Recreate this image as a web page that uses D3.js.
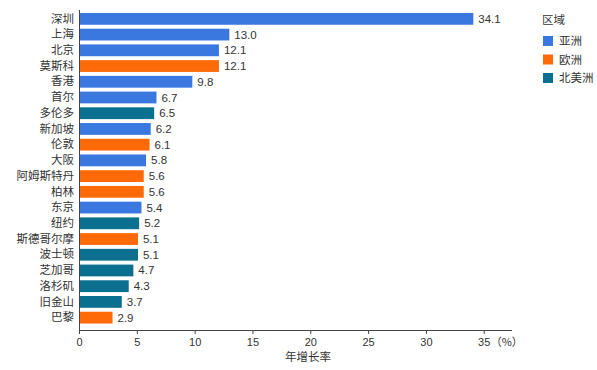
<!DOCTYPE html>
<html>
<head>
<meta charset="utf-8">
<script src="https://cdn.jsdelivr.net/npm/d3@7"></script>
<style>
  body { margin: 0; background: #fff; }
  text { font-family: "Noto Sans CJK SC", "Liberation Sans", sans-serif; }
  .num { font-family: "Liberation Sans", sans-serif; }
</style>
</head>
<body>
<svg id="mainsvg" width="597" height="370"></svg>
<script>

const cities = ["深圳", "上海", "北京", "莫斯科", "香港", "首尔", "多伦多", "新加坡", "伦敦", "大阪",
    "阿姆斯特丹", "柏林", "东京", "纽约", "斯德哥尔摩", "波士顿", "芝加哥", "洛杉矶", "旧金山", "巴黎"]
const growth = [34.1, 13.0, 12.1, 12.1, 9.8, 6.7, 6.5, 6.2, 6.1, 5.8,
    5.6, 5.6, 5.4, 5.2, 5.1, 5.1, 4.7, 4.3, 3.7, 2.9]
const regionOf = ["亚洲", "亚洲", "亚洲", "欧洲", "亚洲", "亚洲", "北美洲", "亚洲", "欧洲", "亚洲",
    "欧洲", "欧洲", "亚洲", "北美洲", "欧洲", "北美洲", "北美洲", "北美洲", "北美洲", "欧洲"]
const regions = ["亚洲", "欧洲", "北美洲"]
const regionColors = ["#3a77df", "#ff6a08", "#0b6f90"]
const xTicks = [0, 5, 10, 15, 20, 25, 30, 35]

const MARGIN = { left: 79, top: 11, right: 85, bottom: 40 }
const axisY = 330

let svg = d3.select("#mainsvg")
let data = cities.map((c, i) => ({ city: c, value: growth[i], region: regionOf[i] }))

let x = d3.scaleLinear().domain([0, 37.4]).range([MARGIN.left, 511.5])
let y = d3.scaleBand().domain(cities).range([MARGIN.top, 325.5]).paddingInner(0.25).paddingOuter(0.125)
let color = d3.scaleOrdinal().domain(regions).range(regionColors)

// bars
svg.append("g").attr("id", "bars")
    .selectAll("rect")
    .data(data)
    .enter()
    .append("rect")
    .attr("x", x(0))
    .attr("y", d => y(d.city))
    .attr("width", d => x(d.value) - x(0))
    .attr("height", y.bandwidth())
    .attr("fill", d => color(d.region))

// value labels
svg.append("g")
    .selectAll("text")
    .data(data)
    .enter()
    .append("text")
    .attr("class", "num")
    .attr("x", d => x(d.value) + 5)
    .attr("y", d => y(d.city) + y.bandwidth() / 2)
    .attr("dy", "0.35em")
    .attr("font-size", 11.5)
    .attr("fill", "#333")
    .text(d => d.value.toFixed(1))

// y axis
let yAxis = svg.append("g")
    .attr("transform", `translate(${MARGIN.left},0)`)
    .call(d3.axisLeft(y).tickSize(0).tickPadding(5))
yAxis.select(".domain").attr("d", `M0.5,10V${axisY}`).attr("stroke", "#444")
yAxis.selectAll("text").attr("font-size", 11.5).attr("fill", "#333")
    .style("font-family", '"Noto Sans CJK SC", sans-serif')

// x axis
let xAxis = svg.append("g")
    .attr("transform", `translate(0,${axisY})`)
    .call(d3.axisBottom(x).tickValues(xTicks).tickSize(4).tickSizeOuter(0).tickPadding(4))
xAxis.select(".domain").attr("stroke", "#444")
xAxis.selectAll(".tick line").attr("stroke", "#444")
xAxis.selectAll("text").attr("font-size", 11).attr("fill", "#333")
    .style("font-family", '"Liberation Sans", sans-serif')

svg.append("text")
    .attr("x", x(35) + 7)
    .attr("y", axisY + 16)
    .attr("font-size", 11)
    .attr("fill", "#333")
    .text("（%）")

svg.append("text")
    .attr("x", 308)
    .attr("y", 361)
    .attr("text-anchor", "middle")
    .attr("font-size", 11.5)
    .attr("fill", "#333")
    .text("年增长率")

// legend
let legend = svg.append("g").attr("transform", "translate(542,0)")
legend.append("text")
    .attr("x", 0)
    .attr("y", 24)
    .attr("font-size", 11.5)
    .attr("fill", "#333")
    .text("区域")
let items = legend.selectAll(".item")
    .data(regions)
    .enter()
    .append("g")
    .attr("class", "item")
    .attr("transform", (d, i) => `translate(1,${36 + i * 18.5})`)
items.append("rect")
    .attr("width", 10)
    .attr("height", 10)
    .attr("fill", d => color(d))
items.append("text")
    .attr("x", 16)
    .attr("y", 5)
    .attr("dy", "0.35em")
    .attr("font-size", 11.5)
    .attr("fill", "#333")
    .text(d => d)

</script>
</body>
</html>
